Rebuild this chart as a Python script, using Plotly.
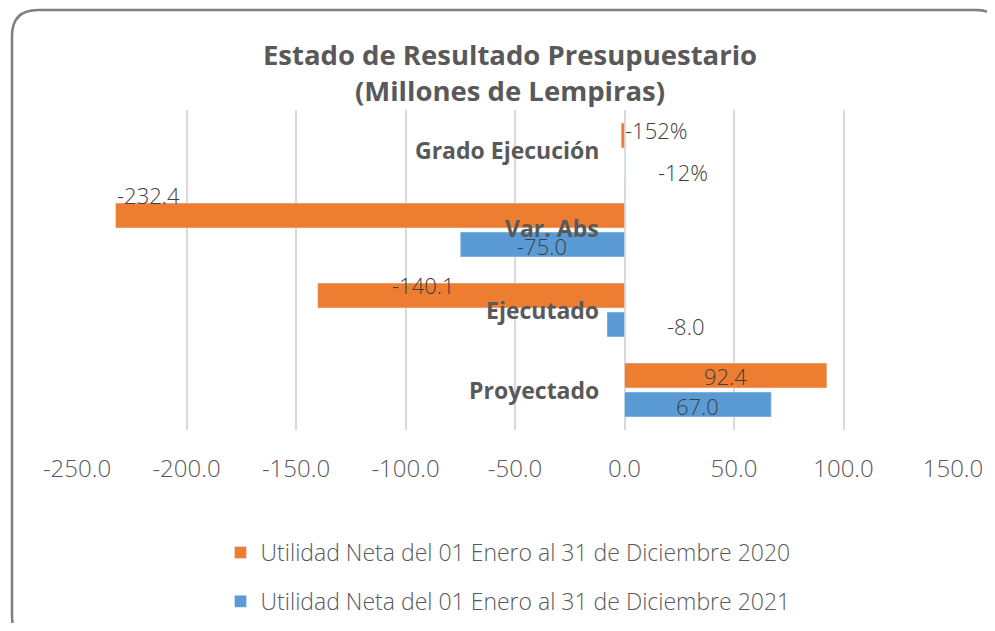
import plotly.graph_objects as go

# ---------------- data ----------------
categories = ["Proyectado", "Ejecutado", "Var. Abs", "Grado Ejecución"]
series_2020_name = "Utilidad Neta del 01 Enero al 31 de Diciembre 2020"
series_2021_name = "Utilidad Neta del 01 Enero al 31 de Diciembre 2021"
values_2020 = [92.4, -140.1, -232.4, -1.52]
values_2021 = [67.0, -8.0, -75.0, -0.12]
labels_2020 = ["92.4", "-140.1", "-232.4", "-152%"]
labels_2021 = ["67.0", "-8.0", "-75.0", "-12%"]
tick_values = [-250, -200, -150, -100, -50, 0, 50, 100, 150]
tick_labels = ["-250.0", "-200.0", "-150.0", "-100.0", "-50.0", "0.0", "50.0", "100.0", "150.0"]

# ---------------- style ----------------
OFF = 8                      # default page body margin
W, H = 995 - OFF, 631 - 2 * OFF
PLOT_L, PLOT_R, PLOT_T, PLOT_B = 77, 953, 110, 430   # in window pixels
M_L, M_R = PLOT_L - OFF, W - (PLOT_R - OFF)
M_T, M_B = PLOT_T - OFF, H - (PLOT_B - OFF)
ORANGE = "#ED7D31"
BLUE = "#5B9BD5"
TXT = "#595959"
VAL = "#404040"
FONT = "Open Sans"

# label placement: (x as fraction of value, xanchor, xshift px, yshift px)
place_2020 = [(0.5, "center", 0, 14), (1.0, "left", 72, 25), (1.0, "left", -1, 35), (1.0, "left", 2, 20)]
place_2021 = [(0.5, "center", 0, -16), (1.0, "left", 58, -16), (0.5, "center", 0, -16), (1.0, "left", 32, -22)]

fig = go.Figure()
fig.add_trace(go.Bar(y=categories, x=values_2021, orientation="h", name=series_2021_name,
                     marker=dict(color=BLUE), legendgroup="b", legendrank=2, hoverinfo="x+name"))
fig.add_trace(go.Bar(y=categories, x=values_2020, orientation="h", name=series_2020_name,
                     marker=dict(color=ORANGE), legendgroup="a", legendrank=1, hoverinfo="x+name"))

annotations = []
for vals, labs, places in ((values_2020, labels_2020, place_2020), (values_2021, labels_2021, place_2021)):
    for cat, v, lab, (fx, anc, xs, ys) in zip(categories, vals, labs, places):
        annotations.append(dict(x=v * fx, y=cat, xref="x", yref="y", text=lab, showarrow=False,
                                xanchor=anc, yanchor="middle", xshift=xs, yshift=ys,
                                font=dict(family=FONT, size=22, color=VAL, weight=300)))
# category labels drawn inside plot, right-aligned at zero
for cat in categories:
    annotations.append(dict(x=0, y=cat, xref="x", yref="y", text=cat, showarrow=False,
                            xanchor="right", yanchor="middle", xshift=-24, yshift=2 if cat == "Var. Abs" else 0,
                            font=dict(family=FONT, size=23, color=TXT, weight="bold")))

# rounded border (paper coordinates), given in window pixels
pw, ph = W - M_L - M_R, H - M_T - M_B
def px(x):
    return (x - OFF - M_L) / pw
def py(y):
    return (H - M_B - (y - OFF)) / ph
L, T, R, B, r = 12, 10, 1002, 642, 26
path = (f"M {px(L)},{py(T + r)} Q {px(L)},{py(T)} {px(L + r)},{py(T)} "
        f"L {px(R - r)},{py(T)} Q {px(R)},{py(T)} {px(R)},{py(T + r)} "
        f"L {px(R)},{py(B - r)} Q {px(R)},{py(B)} {px(R - r)},{py(B)} "
        f"L {px(L + r)},{py(B)} Q {px(L)},{py(B)} {px(L)},{py(B - r)} Z")

fig.update_layout(
    width=W, height=H, autosize=False,
    margin=dict(l=M_L, r=M_R, t=M_T, b=M_B, autoexpand=False),
    paper_bgcolor="white", plot_bgcolor="white",
    barmode="group", bargap=0.275, bargroupgap=0.14,
    title=dict(text="Estado de Resultado Presupuestario<br>(Millones de Lempiras)",
               x=(510 - OFF) / W, xanchor="center", y=1 - 57 / H, yanchor="middle", yref="container",
               font=dict(family=FONT, size=27.5, color=TXT, weight="bold")),
    xaxis=dict(range=[-250, 150], tickvals=tick_values, ticktext=tick_labels,
               showgrid=True, gridcolor="#d9d9d9", gridwidth=1.5, zeroline=False,
               showline=False, ticks="", ticklabelstandoff=22,
               tickfont=dict(family=FONT, size=24, color=TXT, weight=300), fixedrange=True),
    yaxis=dict(categoryorder="array", categoryarray=categories, showticklabels=False,
               showgrid=False, zeroline=False, showline=False, ticks="", fixedrange=True),
    legend=dict(orientation="v", x=(508 - PLOT_L) / pw, xanchor="center", y=-(531 - PLOT_B) / ph, yanchor="top",
                traceorder="grouped", tracegroupgap=16,
                font=dict(family=FONT, size=23, color=TXT, weight=300)),
    annotations=annotations,
    shapes=[dict(type="path", path=path, xref="paper", yref="paper",
                 line=dict(color="#7f7f7f", width=2.5), fillcolor="rgba(0,0,0,0)", layer="above")],
    showlegend=True,
)

fig.write_html("out.html")
